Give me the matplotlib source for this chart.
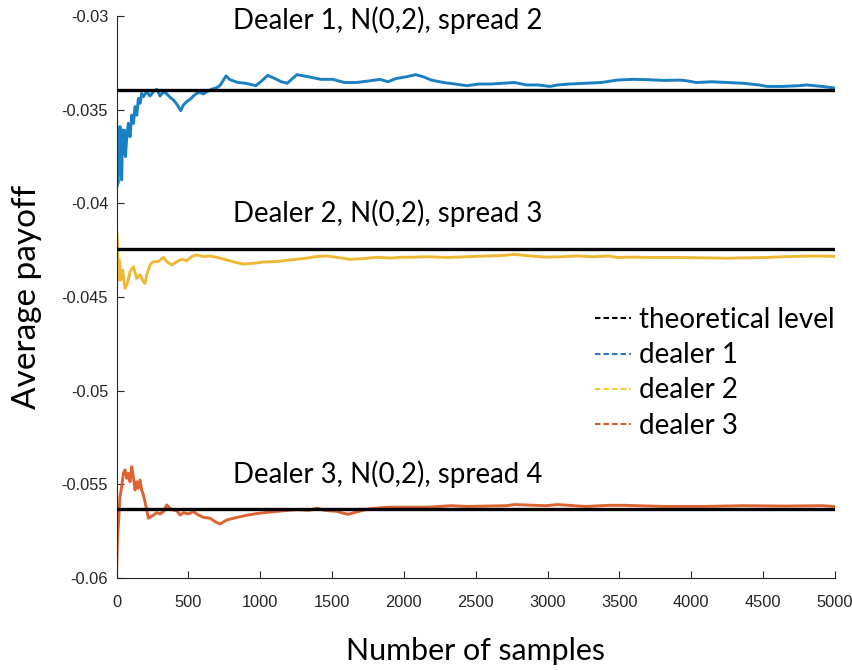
import matplotlib
matplotlib.use("Agg")
import matplotlib.pyplot as plt
from matplotlib.lines import Line2D

# ---------------- data ----------------
x_dealer1 = [1, 3, 6, 10, 14, 18, 24, 30, 36, 42, 48, 55, 62, 70, 82, 94, 106, 118, 129, 141,
             152, 164, 175, 187, 210, 233, 257, 280, 303, 326, 350, 373, 396, 419, 447, 465,
             489, 512, 535, 558, 581, 605, 628, 651, 674, 697, 721, 744, 762,
             790, 845, 900, 969, 1010, 1051, 1092, 1147, 1188, 1230, 1257, 1340, 1422, 1504,
             1587, 1669, 1752, 1834, 1889, 1944, 2027, 2082, 2137, 2191, 2274, 2356, 2439,
             2521, 2604, 2686, 2769, 2851, 2933, 3016, 3071, 3153, 3263, 3373, 3483, 3593,
             3703, 3813, 3923, 3978, 4033, 4143, 4252, 4362, 4472, 4527, 4637, 4747, 4802,
             4912, 4994]
y_dealer1 = [-0.03555, -0.03911, -0.03769, -0.03893, -0.03680, -0.03840, -0.03590, -0.03822,
             -0.03875, -0.03609, -0.03733, -0.03609, -0.03751, -0.03662, -0.03573, -0.03644,
             -0.03529, -0.03573, -0.03484, -0.03529, -0.03440, -0.03466, -0.03413, -0.03431,
             -0.03404, -0.03427, -0.03404, -0.03391, -0.03427, -0.03404, -0.03416, -0.03434,
             -0.03448, -0.03470, -0.03505, -0.03475, -0.03457, -0.03445, -0.03427, -0.03413,
             -0.03409, -0.03416, -0.03404, -0.03395, -0.03388, -0.03383, -0.03370, -0.03342,
             -0.03320,
             -0.03340, -0.03355, -0.03359, -0.03372, -0.03347, -0.03317, -0.03330, -0.03351,
             -0.03359, -0.03330, -0.03313, -0.03325, -0.03338, -0.03338, -0.03355, -0.03355,
             -0.03347, -0.03338, -0.03351, -0.03334, -0.03323, -0.03313, -0.03325, -0.03342,
             -0.03355, -0.03363, -0.03372, -0.03363, -0.03363, -0.03359, -0.03355, -0.03368,
             -0.03368, -0.03376, -0.03368, -0.03363, -0.03359, -0.03355, -0.03342, -0.03338,
             -0.03340, -0.03344, -0.03342, -0.03347, -0.03355, -0.03351, -0.03355, -0.03359,
             -0.03368, -0.03376, -0.03376, -0.03372, -0.03368, -0.03376, -0.03384]

x_dealer2 = [1, 6, 13, 20, 29, 43, 59, 76, 94, 117, 141, 164, 187, 199, 210, 233, 257, 291,
             326, 350, 384, 419, 454, 489, 523, 558, 605, 651, 697, 767, 837, 883, 953, 1022,
             1115, 1208, 1300, 1393, 1463, 1533, 1625, 1718, 1811, 1904, 1973, 2043,
             2164, 2301, 2439, 2576, 2714, 2769, 2878, 2988, 3098, 3208, 3318, 3428, 3483,
             3593, 3703, 3813, 3923, 4088, 4252, 4362, 4527, 4637, 4747, 4857, 4994]
y_dealer2 = [-0.04142, -0.04196, -0.04409, -0.04302, -0.04409, -0.04356, -0.04454, -0.04427,
             -0.04365, -0.04338, -0.04400, -0.04382, -0.04418, -0.04427, -0.04382, -0.04329,
             -0.04311, -0.04311, -0.04288, -0.04311, -0.04329, -0.04311, -0.04299, -0.04306,
             -0.04284, -0.04275, -0.04284, -0.04281, -0.04288, -0.04302, -0.04317, -0.04324,
             -0.04320, -0.04313, -0.04311, -0.04302, -0.04295, -0.04284, -0.04281, -0.04288,
             -0.04299, -0.04295, -0.04288, -0.04292, -0.04288, -0.04288,
             -0.04285, -0.04289, -0.04285, -0.04281, -0.04277, -0.04272, -0.04281, -0.04287,
             -0.04285, -0.04281, -0.04285, -0.04281, -0.04289, -0.04287, -0.04289, -0.04289,
             -0.04289, -0.04291, -0.04293, -0.04291, -0.04289, -0.04285, -0.04283, -0.04281,
             -0.04283]

x_dealer3 = [1, 6, 15, 24, 36, 48, 59, 71, 82, 94, 106, 117, 129, 141, 152, 164, 175, 187,
             198, 210, 222, 233, 257, 280, 303, 326, 349, 372, 396, 419, 442, 465, 500, 535,
             570, 604, 651, 686, 720, 767, 836, 906, 975, 1068, 1175, 1257, 1340, 1395, 1450,
             1532, 1587, 1614, 1669, 1752, 1889, 2027, 2164, 2329, 2439, 2714, 2769, 2988,
             3071, 3263, 3428, 3538, 3813, 4088, 4362, 4637, 4912, 4994]
y_dealer3 = [-0.05960, -0.05797, -0.05690, -0.05566, -0.05512, -0.05441, -0.05423, -0.05468,
             -0.05441, -0.05486, -0.05406, -0.05459, -0.05530, -0.05486, -0.05521, -0.05477,
             -0.05530, -0.05557, -0.05593, -0.05637, -0.05681, -0.05676, -0.05664, -0.05651,
             -0.05658, -0.05646, -0.05610, -0.05628, -0.05637, -0.05641, -0.05664, -0.05651,
             -0.05658, -0.05646, -0.05664, -0.05676, -0.05681, -0.05699, -0.05712, -0.05690,
             -0.05677, -0.05665, -0.05656, -0.05648, -0.05640, -0.05635, -0.05639, -0.05627,
             -0.05639, -0.05644, -0.05656, -0.05660, -0.05648, -0.05631, -0.05622, -0.05622,
             -0.05622, -0.05614, -0.05618, -0.05614, -0.05608, -0.05614, -0.05608, -0.05618,
             -0.05612, -0.05612, -0.05618, -0.05618, -0.05614, -0.05616, -0.05614, -0.05618]

theoretical_levels = [-0.03395, -0.04245, -0.05633]
dealer_titles = ["Dealer 1, N(0,2), spread 2", "Dealer 2, N(0,2), spread 3",
                 "Dealer 3, N(0,2), spread 4"]
legend_labels = ["theoretical level", "dealer 1", "dealer 2", "dealer 3"]
x_ticks = [0, 500, 1000, 1500, 2000, 2500, 3000, 3500, 4000, 4500, 5000]
y_ticks = [-0.06, -0.055, -0.05, -0.045, -0.04, -0.035, -0.03]
y_tick_labels = ["-0.06", "-0.055", "-0.05", "-0.045", "-0.04", "-0.035", "-0.03"]

# ---------------- style ----------------
colors = ["#0072BD", "#EDB120", "#D95319"]
legend_colors = ["#2E74C4", "#F2CC3A", "#C95A2C"]
label_font = "Lato"
tick_font = "Liberation Sans"
axis_gray = "#262626"

fig = plt.figure(figsize=(8.53, 6.70), dpi=100)
ax = fig.add_axes([0.1366, 0.1373, 0.8423, 0.8388])

series = [(x_dealer1, y_dealer1), (x_dealer2, y_dealer2), (x_dealer3, y_dealer3)]
for (xs, ys), c in zip(series, colors):
    ax.plot(xs, ys, color=c, lw=2.1, solid_joinstyle="round", zorder=2, alpha=0.9)

for lvl in theoretical_levels:
    ax.plot([0, 5000], [lvl, lvl], color="black", lw=2.4, zorder=3)

title_y = [-0.03021, -0.04052, -0.05445]
for t, ty in zip(dealer_titles, title_y):
    ax.text(811, ty, t, fontsize=19.9, family=label_font, ha="left", va="center",
            color="black", zorder=4)

ax.set_xlim(0, 5000)
ax.set_ylim(-0.06, -0.03)
ax.set_xticks(x_ticks)
ax.set_xticklabels([str(v) for v in x_ticks])
ax.set_yticks(y_ticks)
ax.set_yticklabels(y_tick_labels)

for s in ["top", "right"]:
    ax.spines[s].set_visible(False)
for s in ["left", "bottom"]:
    ax.spines[s].set_color(axis_gray)
    ax.spines[s].set_linewidth(0.8)

ax.tick_params(direction="in", length=5, width=0.8, color=axis_gray,
               labelcolor=axis_gray, labelsize=11.8)
ax.tick_params(axis="x", pad=12)
ax.tick_params(axis="y", pad=6)
for lab in ax.get_xticklabels() + ax.get_yticklabels():
    lab.set_family(tick_font)

ax.set_xlabel("Number of samples", fontsize=21.9, family=label_font, labelpad=20)
ax.set_ylabel("Average payoff", fontsize=24, family=label_font, labelpad=14)

dash = (0, (2.6, 1.5))
handles = [Line2D([0], [0], color="black", lw=1.5, ls=dash)]
handles += [Line2D([0], [0], color=c, lw=1.5, ls=dash) for c in legend_colors]
leg = ax.legend(handles, legend_labels, loc="upper left", bbox_to_anchor=(0.666, 0.482),
                frameon=False, prop={"family": label_font, "size": 20},
                handlelength=1.3, handletextpad=0.3, labelspacing=0.33,
                borderaxespad=0, borderpad=0)

fig.savefig("out.png", dpi=100)
